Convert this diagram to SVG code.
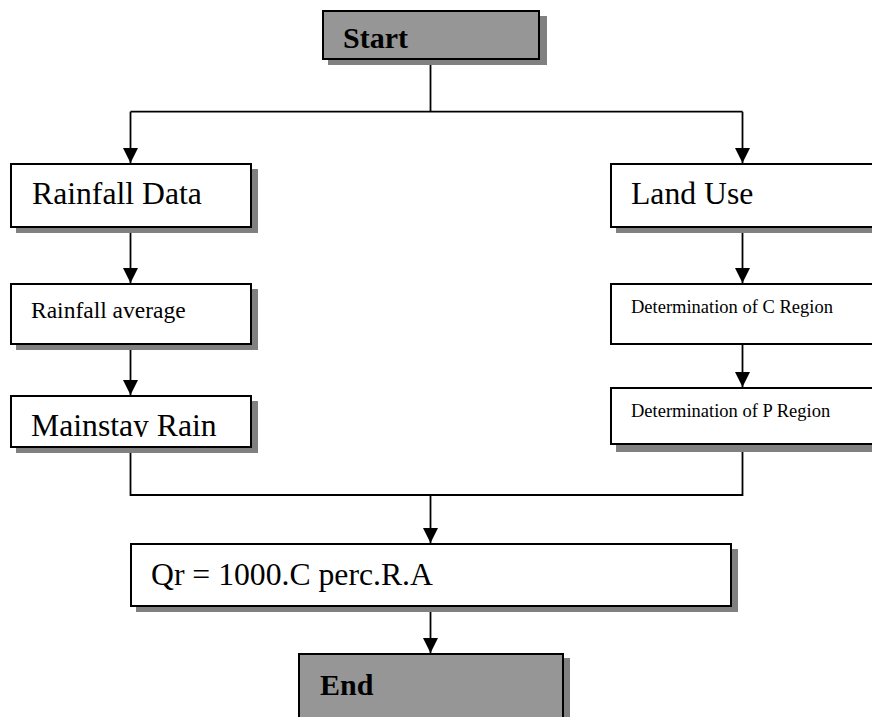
<svg xmlns="http://www.w3.org/2000/svg" width="872" height="717" viewBox="0 0 872 717">
<style>
.box{fill:#ffffff;stroke:#000000;stroke-width:2}
.term{fill:#969696;stroke:#000000;stroke-width:2}
.shadow{fill:#808080}
.txt{font-family:"Liberation Serif","Times New Roman",serif;fill:#000000}
.big{font-size:31.7px}
.mid{font-size:23.5px}
.small{font-size:18.5px}
.bold{font-size:30px;font-weight:bold}
.conn{fill:none;stroke:#000000;stroke-width:1.8}
</style>
<defs>
<marker id="arrow" markerUnits="userSpaceOnUse" markerWidth="16" markerHeight="15" refX="16" refY="8" orient="auto" viewBox="0 0 16 16">
<path d="M0,0 L16,8 L0,16 Z" fill="#000000"/>
</marker>
<clipPath id="clipMain"><rect x="11" y="396" width="240" height="41"/></clipPath>
</defs>
<rect width="872" height="717" fill="#ffffff"/>

<g id="connectors">
<path class="conn" d="M430.5,59 V111.7"/>
<path class="conn" d="M130.5,111.7 H742.5"/>
<path class="conn" d="M130.5,111.7 V163" marker-end="url(#arrow)"/>
<path class="conn" d="M742.5,111.7 V163" marker-end="url(#arrow)"/>
<path class="conn" d="M130.5,227 V283" marker-end="url(#arrow)"/>
<path class="conn" d="M130.5,344 V395" marker-end="url(#arrow)"/>
<path class="conn" d="M742.5,227 V283" marker-end="url(#arrow)"/>
<path class="conn" d="M742.5,344 V387" marker-end="url(#arrow)"/>
<path class="conn" d="M130.5,447 V495 H742.5 V444"/>
<path class="conn" d="M430.5,495 V543" marker-end="url(#arrow)"/>
<path class="conn" d="M430.5,606 V653" marker-end="url(#arrow)"/>
</g>

<g id="start">
<rect class="shadow" x="328" y="16" width="219" height="49"/>
<rect class="term" x="323" y="11" width="216" height="48"/>
<text class="txt bold" x="343" y="48">Start</text>
</g>

<g id="rainfall-data">
<rect class="shadow" x="16" y="169" width="242" height="64"/>
<rect class="box" x="11" y="164" width="240" height="63"/>
<text class="txt big" x="32" y="204">Rainfall Data</text>
</g>

<g id="rainfall-average">
<rect class="shadow" x="16" y="289" width="242" height="61"/>
<rect class="box" x="11" y="284" width="240" height="60"/>
<text class="txt mid" x="31" y="318">Rainfall average</text>
</g>

<g id="mainstay-rain">
<rect class="shadow" x="16" y="401" width="242" height="52"/>
<rect class="box" x="11" y="396" width="240" height="51"/>
<text class="txt big" x="31" y="436" clip-path="url(#clipMain)">Mainstay Rain</text>
</g>

<g id="land-use">
<rect class="shadow" x="616" y="169" width="266" height="64"/>
<rect class="box" x="611" y="164" width="264" height="63"/>
<text class="txt big" x="631" y="204">Land Use</text>
</g>

<g id="c-region">
<rect class="box" x="611" y="284" width="264" height="60"/>
<text class="txt small" x="631" y="313">Determination of C Region</text>
</g>

<g id="p-region">
<rect class="shadow" x="616" y="393" width="266" height="59"/>
<rect class="box" x="611" y="388" width="264" height="56"/>
<text class="txt small" x="631" y="417">Determination of P Region</text>
</g>

<g id="formula">
<rect class="shadow" x="136" y="549" width="602" height="63"/>
<rect class="box" x="131" y="544" width="600" height="62"/>
<text class="txt big" x="151" y="585">Qr = 1000.C perc.R.A</text>
</g>

<g id="end">
<rect class="shadow" x="304" y="658" width="266" height="80"/>
<rect class="term" x="299" y="654" width="264" height="80"/>
<text class="txt bold" x="320" y="695">End</text>
</g>
</svg>
